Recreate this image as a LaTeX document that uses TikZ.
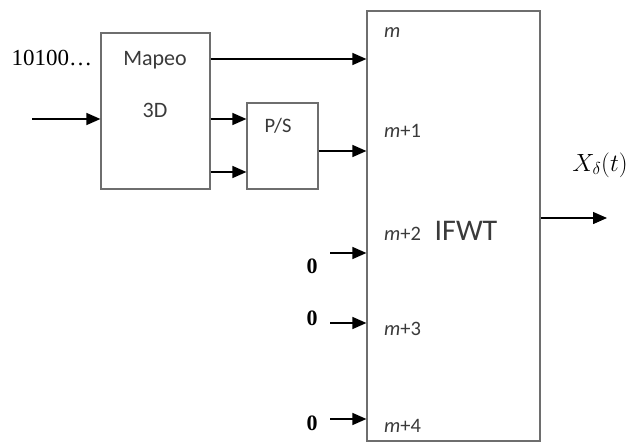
\documentclass[tikz,border=0pt]{standalone}
\usepackage{fontspec}
\setmainfont{Liberation Serif}
\newfontfamily\calibri{Carlito}
\usetikzlibrary{arrows.meta}
\definecolor{boxline}{HTML}{6E6E6E}
\definecolor{boxtext}{HTML}{3A3A3A}

\begin{document}
\begin{tikzpicture}[
  x=1pt, y=-1pt,
  blk/.style={rectangle, draw=boxline, line width=1.2pt, fill=white, inner sep=0pt},
  sig/.style={line width=1.4pt, -{Triangle[length=14pt,width=12pt]}},
  boxlbl/.style={inner sep=0pt, anchor=base, text=boxtext, font=\calibri\fontsize{22}{24}\selectfont},
  portlbl/.style={inner sep=0pt, anchor=base west, text=boxtext, font=\calibri\fontsize{20.5}{22}\selectfont},
  zerolbl/.style={inner sep=0pt, anchor=base, font=\bfseries\fontsize{22}{24}\selectfont},
]
\useasboundingbox (0,0) rectangle (629,445);

\node[blk, minimum width=109pt, minimum height=156pt] (mapeo) at (155.5,111) {};
\node[blk, minimum width=71pt, minimum height=86pt] (ps) at (282.5,146) {};
\node[blk, minimum width=173pt, minimum height=430pt] (ifwt) at (453.5,226) {};

\node[boxlbl] (mapeotxt) at (155,65) {Mapeo};
\node[boxlbl] (dtxt) at (155,117) {3D};
\node[boxlbl, font=\calibri\fontsize{20.5}{22}\selectfont] (pstxt) at (278,132) {P/S};
\node[boxlbl, font=\calibri\fontsize{30}{34}\selectfont] (ifwttxt) at (466,240) {IFWT};

\node[portlbl] (m0) at (384,37) {\itshape m};
\node[portlbl] (m1) at (384,137) {{\itshape m}+1};
\node[portlbl] (m2) at (384,240) {{\itshape m}+2};
\node[portlbl] (m3) at (384,335) {{\itshape m}+3};
\node[portlbl] (m4) at (384,432) {{\itshape m}+4};

\node[inner sep=0pt, anchor=base, font=\fontsize{23}{26}\selectfont] (bits) at (52,65) {10100…};
\node[zerolbl] (zero2) at (312,273) {0};
\node[zerolbl] (zero3) at (312,325) {0};
\node[zerolbl] (zero4) at (312,430) {0};
\node[inner sep=0pt, anchor=base, font=\fontsize{25}{28}\selectfont] (xout) at (600,171) {$X_\delta(t)$};

\coordinate (in) at (32,119);
\coordinate (out) at (607,218);
\coordinate (p0) at (ifwt.west |- 0,59);
\coordinate (p1) at (ifwt.west |- 0,151);
\coordinate (q1) at (ps.west |- 0,119);
\coordinate (q2) at (ps.west |- 0,172);
\coordinate (z2) at (330,253);
\coordinate (z3) at (330,323);
\coordinate (z4) at (330,419);

\draw[sig] (in) -- (in -| mapeo.west);
\draw[sig] (mapeo.east |- p0) -- (p0);
\draw[sig] (mapeo.east |- q1) -- (q1);
\draw[sig] (mapeo.east |- q2) -- (q2);
\draw[sig] (ps.east |- p1) -- (p1);
\draw[sig] (z2) -- (z2 -| ifwt.west);
\draw[sig] (z3) -- (z3 -| ifwt.west);
\draw[sig] (z4) -- (z4 -| ifwt.west);
\draw[sig] (ifwt.east |- out) -- (out);

\end{tikzpicture}
\end{document}
